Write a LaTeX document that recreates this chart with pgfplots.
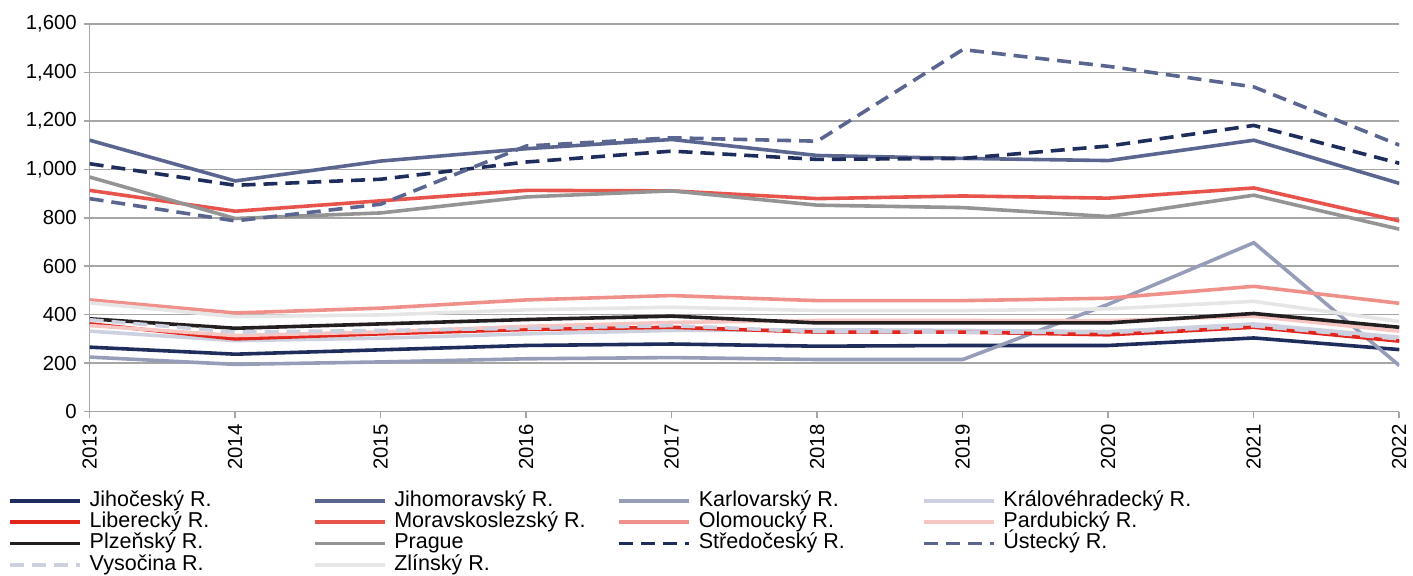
\documentclass[border=0pt]{standalone}
\usepackage{pgfplots}
\pgfplotsset{compat=1.18}
\usepackage{fontspec}
\setmainfont{Liberation Sans}

\definecolor{navy}{RGB}{31,45,92}
\definecolor{slate}{RGB}{90,102,144}
\definecolor{lavgray}{RGB}{150,157,184}
\definecolor{paleblue}{RGB}{205,208,222}
\definecolor{red1}{RGB}{226,38,30}
\definecolor{coral}{RGB}{232,84,76}
\definecolor{salmon}{RGB}{240,144,138}
\definecolor{pink1}{RGB}{247,198,195}
\definecolor{black1}{RGB}{35,31,32}
\definecolor{gray1}{RGB}{148,148,148}
\definecolor{pale}{RGB}{230,230,230}
\definecolor{gridgray}{RGB}{166,166,166}

\newcommand{\legbox}[1]{\makebox[112pt][l]{#1}}

\begin{document}
\begin{tikzpicture}
\begin{axis}[
scale only axis,
width=657pt, height=194.5pt,
xmin=2013, xmax=2022,
ymin=0, ymax=1600,
axis x line*=bottom,
axis y line*=left,
axis line style={draw=gridgray, line width=0.75pt},
xtick={2013,...,2022},
xticklabels={2013,2014,2015,2016,2017,2018,2019,2020,2021,2022},
ytick={0,200,...,1600},
tick align=outside,
major tick length=3pt,
tick style={draw=gridgray, line width=0.75pt},
ymajorgrids,
y grid style={draw=gridgray, line width=0.75pt},
xticklabel style={rotate=90, anchor=east},
tick label style={font=\fontsize{10.2}{12}\selectfont},
/pgf/number format/assume math mode=true,
/pgf/number format/1000 sep={,},
every axis plot/.append style={line width=1.8pt},
legend columns=4,
legend cell align=left,
legend image code/.code={\draw[#1] (0pt,0pt) -- (35pt,0pt);},
legend style={at={(0,0)}, anchor=north west, xshift=-41pt, yshift=-39.5pt,
  draw=none, fill=none, inner sep=0pt,
  font=\fontsize{10.8}{12}\selectfont,
  nodes={inner sep=0pt, text height=7.8pt, text depth=2.4pt},
  row sep=0.5pt,
  /tikz/every odd column/.append style={column sep=4pt}},
]
\coordinate (sw) at (rel axis cs:0,0);
% Jihocesky
\addplot [navy] coordinates {(2013,266) (2014,237) (2015,255) (2016,273) (2017,279) (2018,270) (2019,273) (2020,273) (2021,304) (2022,256)};
\addlegendentry{\legbox{Jihočeský R.}}
% Jihomoravsky
\addplot [slate] coordinates {(2013,1120) (2014,952) (2015,1034) (2016,1085) (2017,1123) (2018,1057) (2019,1045) (2020,1036) (2021,1120) (2022,942)};
\addlegendentry{\legbox{Jihomoravský R.}}
% Karlovarsky
\addplot [lavgray] coordinates {(2013,225) (2014,195) (2015,205) (2016,218) (2017,223) (2018,215) (2019,215) (2020,443) (2021,697) (2022,190)};
\addlegendentry{\legbox{Karlovarský R.}}
% Kralovehradecky
\addplot [paleblue] coordinates {(2013,332) (2014,293) (2015,303) (2016,321) (2017,335) (2018,338) (2019,335) (2020,330) (2021,362) (2022,307)};
\addlegendentry{Královéhradecký R.}
% Liberecky
\addplot [red1] coordinates {(2013,362) (2014,300) (2015,321) (2016,339) (2017,348) (2018,328) (2019,328) (2020,317) (2021,348) (2022,291)};
\addlegendentry{\legbox{Liberecký R.}}
% Moravskoslezsky
\addplot [coral] coordinates {(2013,913) (2014,827) (2015,870) (2016,913) (2017,911) (2018,879) (2019,890) (2020,881) (2021,923) (2022,787)};
\addlegendentry{\legbox{Moravskoslezský R.}}
% Olomoucky
\addplot [salmon] coordinates {(2013,461) (2014,407) (2015,427) (2016,461) (2017,479) (2018,458) (2019,458) (2020,468) (2021,517) (2022,447)};
\addlegendentry{\legbox{Olomoucký R.}}
% Pardubicky
\addplot [pink1] coordinates {(2013,355) (2014,314) (2015,329) (2016,352) (2017,368) (2018,376) (2019,376) (2020,375) (2021,394) (2022,332)};
\addlegendentry{Pardubický R.}
% Plzensky
\addplot [black1] coordinates {(2013,383) (2014,344) (2015,362) (2016,380) (2017,394) (2018,366) (2019,366) (2020,366) (2021,405) (2022,348)};
\addlegendentry{\legbox{Plzeňský R.}}
% Prague
\addplot [gray1] coordinates {(2013,968) (2014,797) (2015,820) (2016,886) (2017,911) (2018,852) (2019,842) (2020,805) (2021,893) (2022,753)};
\addlegendentry{\legbox{Prague}}
% Stredocesky
\addplot [navy, dash pattern=on 7pt off 4pt] coordinates {(2013,1023) (2014,934) (2015,959) (2016,1030) (2017,1075) (2018,1041) (2019,1045) (2020,1096) (2021,1181) (2022,1025)};
\addlegendentry{\legbox{Středočeský R.}}
% Ustecky
\addplot [slate, dash pattern=on 7pt off 4pt] coordinates {(2013,879) (2014,787) (2015,856) (2016,1096) (2017,1130) (2018,1116) (2019,1494) (2020,1425) (2021,1340) (2022,1100)};
\addlegendentry{Ústecký R.}
% Vysocina
\addplot [paleblue, dash pattern=on 7pt off 4pt] coordinates {(2013,379) (2014,328) (2015,335) (2016,344) (2017,355) (2018,330) (2019,328) (2020,326) (2021,354) (2022,300)};
\addlegendentry{\legbox{Vysočina R.}}
% Zlinsky
\addplot [pale] coordinates {(2013,449) (2014,392) (2015,399) (2016,420) (2017,431) (2018,417) (2019,417) (2020,424) (2021,455) (2022,372)};
\addlegendentry{\legbox{Zlínský R.}}
\end{axis}
\path (sw) ++(-45pt,-80pt) rectangle ++(706.5pt,286.5pt);
\end{tikzpicture}
\end{document}
